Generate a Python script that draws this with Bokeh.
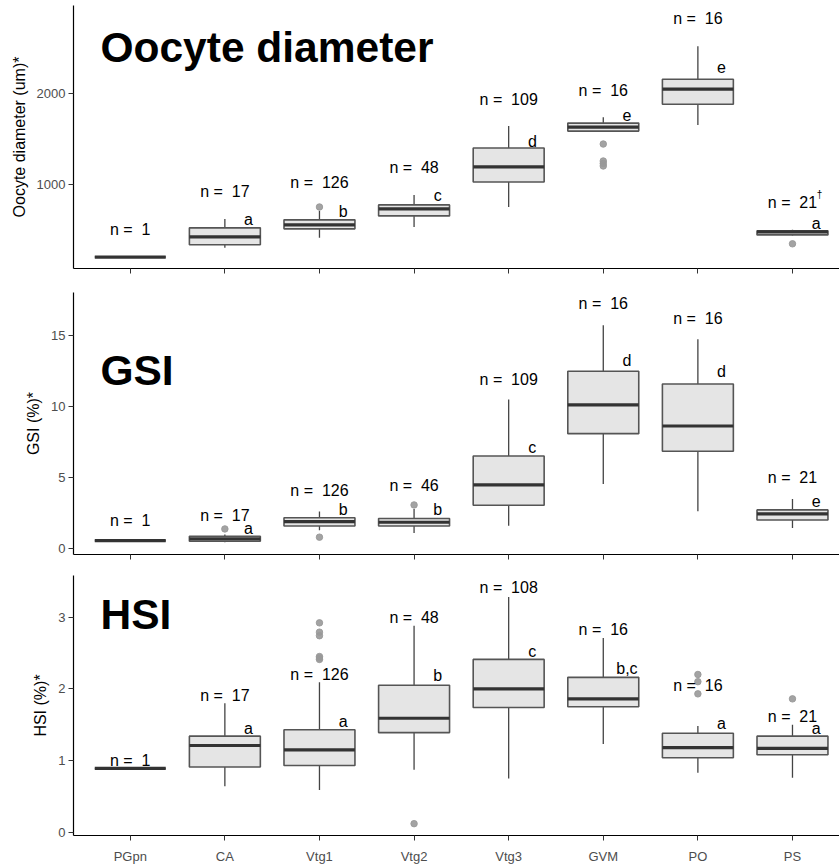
import numpy as np
from bokeh.plotting import figure
from bokeh.models import Range1d, FixedTicker
from bokeh.layouts import column
from bokeh.embed import file_html
from bokeh.resources import INLINE
from bokeh.core.properties import value

stages = ["PGpn", "CA", "Vtg1", "Vtg2", "Vtg3", "GVM", "PO", "PS"]
xpos = [1, 2, 3, 4, 5, 6, 7, 8]

# ---- Oocyte diameter (um) ----
od_q1 = [215, 348, 522, 663, 1033, 1587, 1880, 456]
od_med = [215, 435, 565, 739, 1196, 1630, 2043, 489]
od_q3 = [215, 533, 620, 783, 1402, 1674, 2152, 500]
od_lo = [215, 315, 424, 543, 761, 1580, 1652, 450]
od_hi = [215, 630, 720, 891, 1641, 1739, 2511, 511]
od_out_x = [3, 6, 6, 6, 6, 8]
od_out_y = [760, 1446, 1261, 1234, 1207, 359]
od_n = ["1", "17", "126", "48", "109", "16", "16", "21"]
od_n_y = [511, 924, 1022, 1185, 1935, 2033, 2815, 804]
od_let = ["a", "b", "c", "d", "e", "e", "a"]
od_let_x = [2, 3, 4, 5, 6, 7, 8]
od_let_y = [620, 707, 880, 1478, 1761, 2283, 576]

# ---- GSI (%) ----
gsi_q1 = [0.53, 0.48, 1.56, 1.56, 3.02, 8.06, 6.82, 1.98]
gsi_med = [0.53, 0.65, 1.87, 1.82, 4.45, 10.08, 8.60, 2.41]
gsi_q3 = [0.53, 0.83, 2.14, 2.08, 6.49, 12.45, 11.56, 2.69]
gsi_lo = [0.53, 0.42, 1.25, 1.07, 1.58, 4.52, 2.60, 1.42]
gsi_hi = [0.53, 0.95, 2.58, 2.75, 10.46, 15.70, 14.70, 3.46]
gsi_out_x = [2, 3, 4]
gsi_out_y = [1.35, 0.77, 3.04]
gsi_n = ["1", "17", "126", "46", "109", "16", "16", "21"]
gsi_n_y = [1.94, 2.29, 4.05, 4.40, 11.9, 17.2, 16.2, 4.94]
gsi_let = ["a", "b", "b", "c", "d", "d", "e"]
gsi_let_x = [2, 3, 4, 5, 6, 7, 8]
gsi_let_y = [1.39, 2.71, 2.71, 7.10, 13.2, 12.45, 3.30]

# ---- HSI (%) ----
hsi_q1 = [0.89, 0.91, 0.93, 1.39, 1.74, 1.75, 1.04, 1.08]
hsi_med = [0.89, 1.21, 1.15, 1.59, 2.00, 1.86, 1.18, 1.17]
hsi_q3 = [0.89, 1.34, 1.43, 2.05, 2.41, 2.16, 1.38, 1.34]
hsi_lo = [0.89, 0.64, 0.59, 0.87, 0.75, 1.23, 0.83, 0.76]
hsi_hi = [0.89, 1.80, 2.09, 2.88, 3.28, 2.71, 1.48, 1.50]
hsi_out_x = [3, 3, 3, 3, 3, 3, 4, 7, 7, 7, 8]
hsi_out_y = [2.92, 2.79, 2.74, 2.45, 2.43, 2.41, 0.12, 2.20, 2.10, 1.93, 1.86]
hsi_n = ["1", "17", "126", "48", "108", "16", "16", "21"]
hsi_n_y = [1.00, 1.91, 2.20, 2.99, 3.41, 2.83, 2.05, 1.62]
hsi_let = ["a", "a", "b", "c", "b,c", "a", "a"]
hsi_let_x = [2, 3, 4, 5, 6, 7, 8]
hsi_let_y = [1.45, 1.54, 2.19, 2.52, 2.28, 1.52, 1.45]

FONT = "Liberation Sans"
BOXW = 0.75
NB = "\u00a0"


def panel(q1, med, q3, lo, hi, ox, oy, nlab, ny, let, letx, lety,
          yr, ticks, ylabel, title, title_y, height, btop, bbot, show_x):
    p = figure(width=839, height=height, output_backend="svg",
               toolbar_location=None, x_range=Range1d(0.4, 8.497),
               y_range=Range1d(*yr), min_border_left=73, min_border_right=0,
               min_border_top=btop, min_border_bottom=bbot)
    p.outline_line_color = None
    p.grid.visible = False
    p.background_fill_color = "white"

    x = np.array(xpos, dtype=float)
    # whiskers
    p.segment(x, np.array(q3), x, np.array(hi), line_color="#444444", line_width=1.3)
    p.segment(x, np.array(q1), x, np.array(lo), line_color="#444444", line_width=1.3)
    # boxes
    p.vbar(x=x, width=BOXW, bottom=q1, top=q3, fill_color="#e5e5e5",
           line_color="#555555", line_width=1.6)
    # medians
    p.segment(x - BOXW / 2, np.array(med), x + BOXW / 2, np.array(med),
              line_color="#333333", line_width=3.2)
    # outliers
    p.scatter(ox, oy, size=6.5, fill_color="#999999", line_color="#999999",
              fill_alpha=0.9, line_alpha=0.9)
    # n labels
    p.text(x=xpos, y=ny, text=["n = " + NB + s for s in nlab], text_align="center",
           text_baseline="middle", text_font=value(FONT), text_font_size="16px",
           text_color="black")
    # letters
    p.text(x=[v + 0.25 for v in letx], y=lety, text=let, text_align="center",
           text_baseline="middle", text_font=value(FONT), text_font_size="16px",
           text_color="black")
    # panel title
    p.text(x=[0.685], y=[title_y], text=[title], text_align="left",
           text_baseline="alphabetic", text_font=value(FONT),
           text_font_size="42.5px", text_font_style="bold", text_color="black")

    p.yaxis.ticker = FixedTicker(ticks=ticks)
    p.yaxis.axis_label = ylabel
    p.yaxis.axis_label_text_font = FONT
    p.yaxis.axis_label_text_font_size = "16px"
    p.yaxis.axis_label_text_font_style = "normal"
    p.yaxis.axis_label_text_color = "black"
    p.yaxis.axis_label_standoff = 6
    p.xaxis.ticker = FixedTicker(ticks=xpos)
    p.xaxis.major_label_overrides = {i: s for i, s in zip(xpos, stages)}
    for ax in (p.xaxis, p.yaxis):
        ax.major_label_text_font = FONT
        ax.major_label_text_font_size = "13px"
        ax.major_label_text_color = "#4d4d4d"
        ax.major_tick_line_color = "#333333"
        ax.major_tick_out = 5
        ax.major_tick_in = 0
        ax.minor_tick_line_color = None
        ax.axis_line_color = "black"
        ax.axis_line_width = 1.2
        ax.major_label_standoff = 3
    p.xaxis.major_label_standoff = 8
    if not show_x:
        p.xaxis.major_label_text_font_size = "0px"
        p.xaxis.major_label_text_alpha = 0
    return p


p1 = panel(od_q1, od_med, od_q3, od_lo, od_hi, od_out_x, od_out_y, od_n, od_n_y,
           od_let, od_let_x, od_let_y, (90, 2955), [1000, 2000],
           "Oocyte diameter (um)*", "Oocyte diameter", 2500, 280, 5, 12, False)
# superscript dagger for PS
p1.text(x=[8.285], y=[891], text=["\u2020"], text_align="center",
        text_baseline="middle", text_font=value(FONT), text_font_size="10px",
        text_color="black")

p2 = panel(gsi_q1, gsi_med, gsi_q3, gsi_lo, gsi_hi, gsi_out_x, gsi_out_y, gsi_n,
           gsi_n_y, gsi_let, gsi_let_x, gsi_let_y, (-0.45, 18.0), [0, 5, 10, 15],
           "GSI (%)*", "GSI", 12.5, 286, 12, 12, False)

p3 = panel(hsi_q1, hsi_med, hsi_q3, hsi_lo, hsi_hi, hsi_out_x, hsi_out_y, hsi_n,
           hsi_n_y, hsi_let, hsi_let_x, hsi_let_y, (-0.045, 3.58), [0, 1, 2, 3],
           "HSI (%)*", "HSI", 3.04, 300, 9, 28, True)

layout = column(p1, p2, p3, spacing=0)
open("out.html", "w").write(file_html(layout, INLINE))
